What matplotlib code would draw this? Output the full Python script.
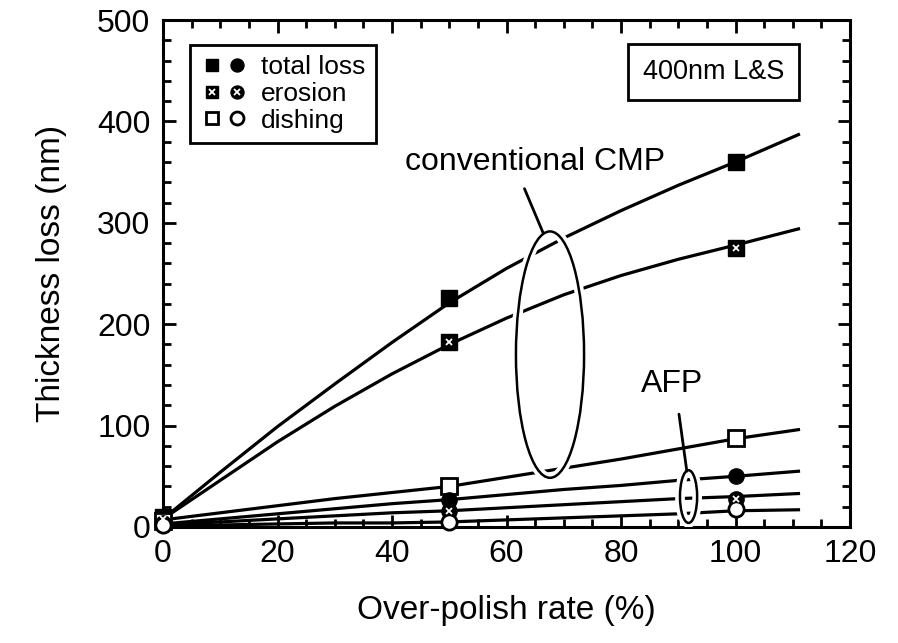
import matplotlib
matplotlib.use("Agg")
import matplotlib.pyplot as plt
from matplotlib.lines import Line2D
from matplotlib.patches import Ellipse
from matplotlib.legend_handler import HandlerTuple
from matplotlib.ticker import MultipleLocator
import matplotlib.patheffects as pe

plt.rcParams['font.family'] = ['Liberation Sans', 'DejaVu Sans']

# measured points (over-polish rate %, thickness loss nm)
x_pts = [0, 50, 100]
conv_total = [10, 226, 360]
conv_erosion = [8, 182, 275]
conv_dishing = [6, 40, 88]
afp_total = [4, 27, 50]
afp_erosion = [3, 16, 28]
afp_dishing = [2, 5, 18]

# fitted curves
x_curve = [0, 10, 20, 30, 40, 50, 60, 70, 80, 90, 100, 111]
conv_total_curve = [8, 54, 99, 141, 182, 221, 255, 285, 312, 337, 360, 387]
conv_erosion_curve = [8, 46, 84, 119, 151, 180, 206, 229, 248, 264, 278, 294]
conv_dishing_curve = [7, 14, 21, 28, 34, 40, 49, 58, 67, 77, 87, 96]
afp_total_curve = [3, 8, 13, 18, 23, 27, 32, 37, 41, 46, 50, 55]
afp_erosion_curve = [2, 5, 8, 11, 14, 16, 19, 22, 25, 28, 30, 33]
afp_dishing_curve = [1, 2, 3, 4, 4, 5, 7, 9, 11, 13, 16, 17]

fig = plt.figure(figsize=(8.98, 6.43), dpi=100)
ax = fig.add_axes([163 / 898, 1 - 527 / 643, 687 / 898, 507 / 643])

for yc in [conv_total_curve, conv_erosion_curve, conv_dishing_curve,
           afp_total_curve, afp_erosion_curve, afp_dishing_curve]:
    ax.plot(x_curve, yc, color='black', lw=2.3, zorder=2)

ms = 11
def filled(y, marker):
    ax.plot(x_pts, y, ls='none', marker=marker, ms=ms, mfc='black',
            mec='black', zorder=4, clip_on=False)

def crossed(y, marker):
    filled(y, marker)
    ax.plot(x_pts, y, ls='none', marker='x', ms=5, mec='white', mew=1.3,
            zorder=5, clip_on=False)

def hollow(y, marker):
    ax.plot(x_pts, y, ls='none', marker=marker, ms=ms, mfc='white',
            mec='black', mew=2, zorder=4, clip_on=False)

filled(conv_total, 's')
crossed(conv_erosion, 's')
hollow(conv_dishing, 's')
filled(afp_total, 'o')
crossed(afp_erosion, 'o')
hollow(afp_dishing, 'o')

# group ellipses with leaders
gap = [pe.withStroke(linewidth=7, foreground='white')]
ax.add_patch(Ellipse((67.6, 170), 11.9, 243, fill=False, lw=1.8,
                     zorder=3, path_effects=gap))
ax.add_patch(Ellipse((91.8, 30), 3.0, 52, fill=False, lw=1.8,
                     zorder=3, path_effects=gap))
ax.annotate('conventional CMP', xy=(66.4, 290), xytext=(65, 360),
            ha='center', va='center', fontsize=23,
            arrowprops=dict(arrowstyle='-', lw=2, color='black',
                            relpos=(0.44, 0), shrinkA=7, shrinkB=0))
ax.annotate('AFP', xy=(91.5, 55), xytext=(89, 141),
            ha='center', va='center', fontsize=23,
            arrowprops=dict(arrowstyle='-', lw=2, color='black',
                            relpos=(0.57, 0), shrinkA=9, shrinkB=0))

ax.text(96.2, 449, '400nm L&S', ha='center', va='center', fontsize=19.5,
        bbox=dict(boxstyle='square,pad=0.55', fc='white', ec='black', lw=2))

sq_full = Line2D([], [], ls='none', marker='s', ms=ms, mfc='black', mec='black')
ci_full = Line2D([], [], ls='none', marker='o', ms=ms, mfc='black', mec='black')
x_mark = Line2D([], [], ls='none', marker='x', ms=5, mec='white', mew=1.3)
sq_open = Line2D([], [], ls='none', marker='s', ms=ms, mfc='white', mec='black', mew=2)
ci_open = Line2D([], [], ls='none', marker='o', ms=ms, mfc='white', mec='black', mew=2)
leg = ax.legend([(sq_full, ci_full), (sq_full, ci_full, x_mark, x_mark), (sq_open, ci_open)],
                ['total loss', 'erosion', 'dishing'],
                handler_map={tuple: HandlerTuple(ndivide=2, pad=0.1)},
                loc='upper left', bbox_to_anchor=(0.039, 0.951), borderaxespad=0,
                fontsize=19, markerscale=0.85, handlelength=1.8, handletextpad=0.5,
                borderpad=0.4, labelspacing=0.1, fancybox=False, framealpha=1,
                edgecolor='black')
leg.get_frame().set_linewidth(2)

ax.set_xlim(0, 120)
ax.set_ylim(0, 500)
ax.xaxis.set_major_locator(MultipleLocator(20))
ax.xaxis.set_minor_locator(MultipleLocator(5))
ax.yaxis.set_major_locator(MultipleLocator(100))
ax.yaxis.set_minor_locator(MultipleLocator(20))
ax.tick_params(which='both', direction='in', top=True, right=True, width=2,
               labelsize=23, pad=9)
ax.tick_params(which='major', length=9)
ax.tick_params(which='minor', length=5.5)
for s in ax.spines.values():
    s.set_linewidth(2.2)

ax.set_xlabel('Over-polish rate (%)', fontsize=24, labelpad=18)
ax.set_ylabel('Thickness loss (nm)', fontsize=24, labelpad=22)

fig.savefig('out.png', dpi=100)
